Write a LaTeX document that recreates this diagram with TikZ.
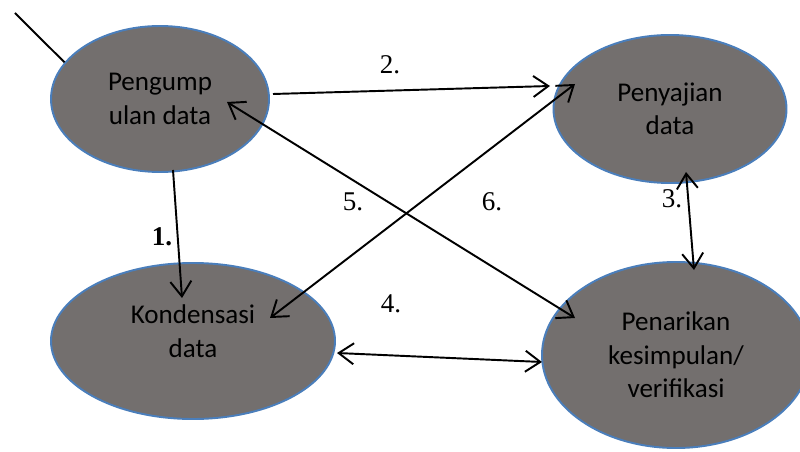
\documentclass[tikz,border=0pt]{standalone}
\usepackage{fontspec}
\setmainfont{Liberation Serif}
\newfontfamily\serifnum{Liberation Serif}
\newfontfamily\calibri{Carlito}
\usetikzlibrary{arrows.meta, shapes.geometric, calc}
\definecolor{cfill}{HTML}{736F6E}
\definecolor{cedge}{HTML}{4A7EBB}
\tikzset{
  every picture/.style={line width=1.1pt},
  blob/.style={ellipse, draw=cedge, fill=cfill, inner sep=0pt, align=center,
    font=\calibri\fontsize{15.4}{19}\selectfont},
  arrow/.style={-{Straight Barb[length=3mm, width=4.2mm]}, draw=black},
  twoway/.style={{Straight Barb[length=3mm, width=4.2mm]}-{Straight Barb[length=3mm, width=4.2mm]}, draw=black},
  num/.style={font=\serifnum\fontsize{15.4}{19}\selectfont, inner sep=0pt},
}

\begin{document}
\begin{tikzpicture}
  \useasboundingbox (0,0) rectangle (16,-9.04);
  \node[blob, minimum width=4.36cm, minimum height=2.92cm] (peng) at (3.2,-1.98) {Pengump\\ulan data};
  \node[blob, minimum width=4.66cm, minimum height=2.96cm] (peny) at (13.4,-2.18) {Penyajian\\data};
  \node[blob, minimum width=5.68cm, minimum height=3.12cm] (kond) at (3.86,-6.82) {Kondensasi\\data\\[-0.27cm]};
  \node[blob, minimum width=5.36cm, minimum height=3.72cm] (pen) at (13.52,-7.1) {Penarikan\\kesimpulan/\\verifikasi};
  \coordinate (tail) at (0.3,-0.26);
  \draw (tail) -- (peng.159);
  \draw[arrow] ($(peng)+(0.26,-1.42)$) -- ($(kond)+(-0.22,0.86)$);
  \draw[arrow] ($(peng)+(2.26,0.10)$) -- ($(peny)+(-2.4,0.46)$);
  \draw[twoway] ($(peny)+(0.32,-1.26)$) -- ($(pen)+(0.36,1.70)$);
  \draw[twoway] ($(kond)+(2.88,-0.24)$) -- ($(pen)+(-2.68,-0.14)$);
  \draw[twoway] ($(kond)+(1.54,0.46)$) -- ($(peny)+(-1.9,0.5)$);
  \draw[twoway] ($(peng)+(1.34,-0.06)$) -- ($(pen)+(-2.02,0.74)$);
  \node[num] (n1) at (3.24,-4.74) {\textbf{1.}};
  \node[num] (n2) at (7.8,-1.3) {2.};
  \node[num] (n3) at (13.44,-3.98) {3.};
  \node[num] (n4) at (7.82,-6.08) {4.};
  \node[num] (n5) at (7.06,-4.04) {5.};
  \node[num] (n6) at (9.84,-4.04) {6.};
\end{tikzpicture}
\end{document}
